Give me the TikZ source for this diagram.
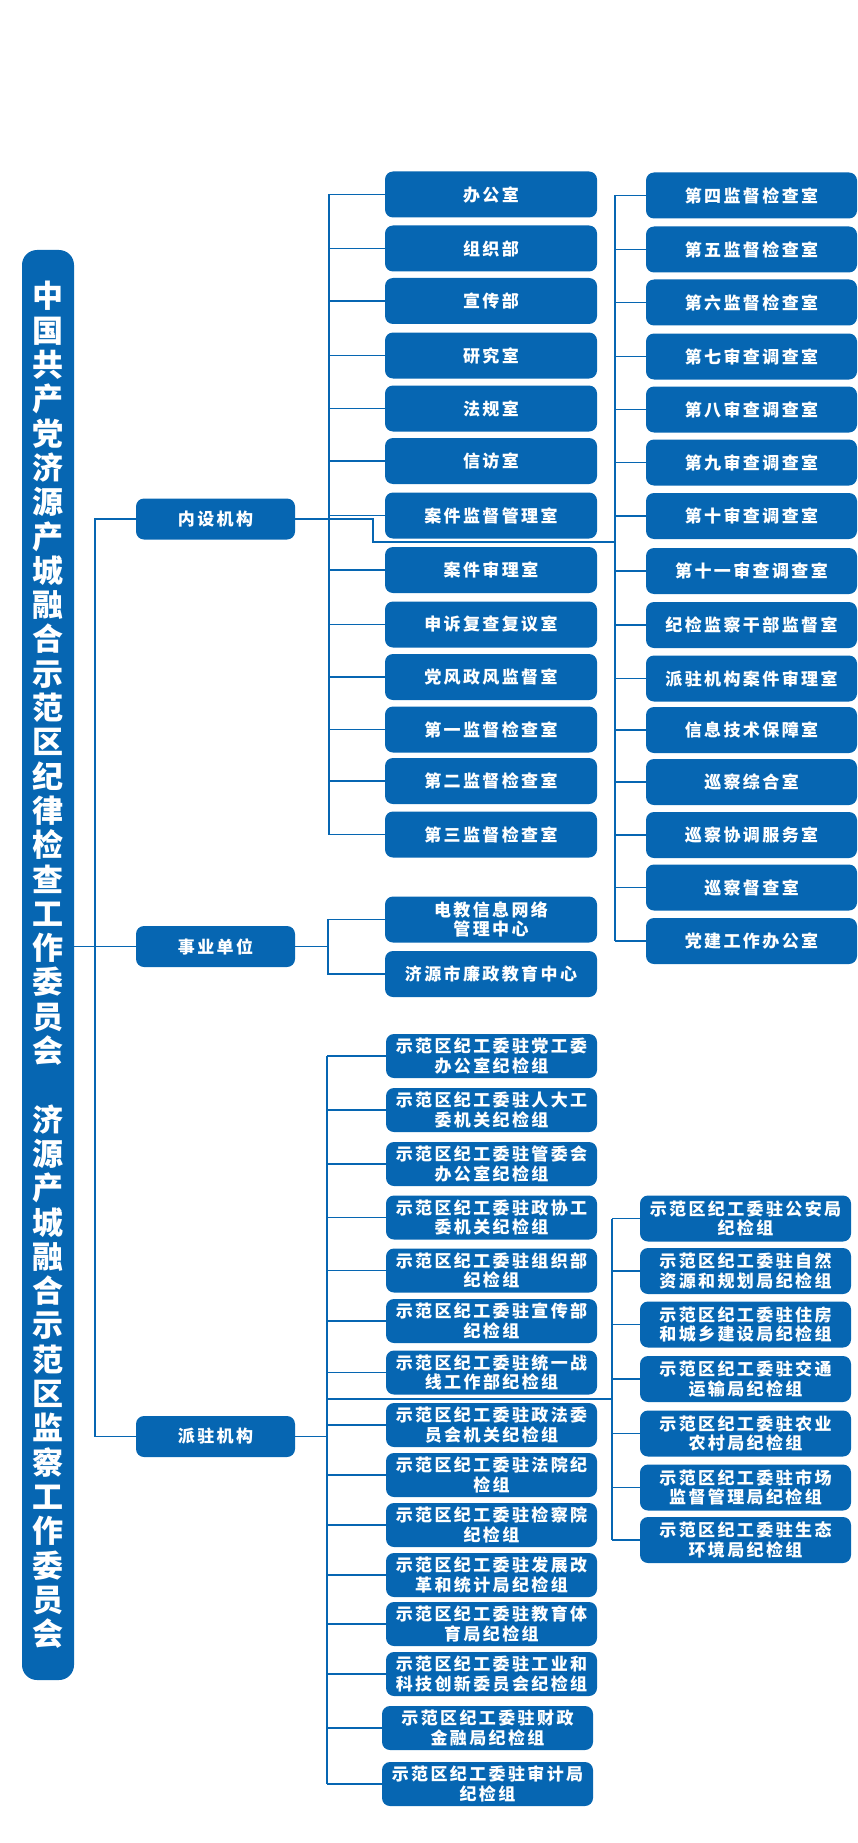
\documentclass[tikz,border=0pt]{standalone}
\usepackage{fontspec}
\newfontfamily\cjk[LetterSpace=14]{Noto Sans CJK SC}
\newfontfamily\cjktitle{Noto Sans CJK SC}
\definecolor{orgblue}{RGB}{6,102,178}
\begin{document}
\begin{tikzpicture}[x=1pt,y=-1pt,
  box/.style={fill=orgblue, text=white, rounded corners=8pt, inner sep=0pt, align=center,
    minimum height=46pt, font=\cjk\bfseries\fontsize{17}{19.5}\selectfont},
  wbox/.style={box, minimum width=212pt},
  pbox/.style={box, minimum width=211pt, minimum height=44pt},
  lbox/.style={box, minimum width=159pt, minimum height=41pt},
  tbox/.style={fill=orgblue, text=white, rounded corners=15pt, inner sep=0pt, align=center,
    minimum width=52pt, minimum height=1430pt, font=\cjktitle\bfseries\fontsize{31}{34.3}\selectfont},
  link/.style={draw=orgblue, line width=1.2pt}]
\useasboundingbox (0,0) rectangle (858,1843);

% title
\node[tbox] (title) at (48,965) {中\\国\\共\\产\\党\\济\\源\\产\\城\\融\\合\\示\\范\\区\\纪\\律\\检\\查\\工\\作\\委\\员\\会\\\phantom{中}\\济\\源\\产\\城\\融\\合\\示\\范\\区\\监\\察\\工\\作\\委\\员\\会};

% level 1
\node[lbox] (ns) at (215.5,519) {内设机构};
\node[lbox] (sy) at (215.5,946.5) {事业单位};
\node[lbox] (pz) at (215.5,1436.5) {派驻机构};

\coordinate (t0) at (95,0);
\draw[link] (ns.west) -- (t0 |- ns.west) -- (t0 |- pz.west) -- (pz.west);
\draw[link] (title.east |- sy.west) -- (sy.west);

% column 2 (internal)
\coordinate (c2) at (329,0);
\foreach \n/\y/\t in {1/194.5/办公室, 2/248.5/组织部, 3/301/宣传部, 4/355.5/研究室,
  5/408.5/法规室, 6/461/信访室, 7/515.5/案件监督管理室, 8/570/案件审理室,
  9/624.5/申诉复查复议室, 10/677/党风政风监督室, 11/729.5/第一监督检查室,
  12/781/第二监督检查室, 13/834.5/第三监督检查室}{
  \node[wbox] (a\n) at (491,\y) {\t};
  \draw[link] (c2 |- a\n.west) -- (a\n.west);
}
\draw[link] (c2 |- a1.west) -- (c2 |- a13.west);

% column 3 (internal)
\coordinate (c3) at (615,0);
\foreach \n/\y/\t in {1/195.5/第四监督检查室, 2/249.5/第五监督检查室, 3/302.5/第六监督检查室,
  4/356.5/第七审查调查室, 5/409.5/第八审查调查室, 6/462.5/第九审查调查室,
  7/516/第十审查调查室, 8/571/第十一审查调查室, 9/625/纪检监察干部监督室,
  10/678.5/派驻机构案件审理室, 11/730/信息技术保障室, 12/782/巡察综合室,
  13/835/巡察协调服务室, 14/887.5/巡察督查室, 15/941/党建工作办公室}{
  \node[box, minimum width=211pt] (b\n) at (751.5,\y) {\t};
  \draw[link] (c3 |- b\n.west) -- (b\n.west);
}
\draw[link] (c3 |- b1.west) -- (c3 |- b15.west);

\coordinate (k1) at (373,542);
\draw[link] (ns.east) -| (k1) -- (c3 |- k1);

% 事业单位
\node[wbox] (s1) at (491,919.5) {电教信息网络\\管理中心};
\node[wbox] (s2) at (491,974) {济源市廉政教育中心};
\coordinate (c4) at (328,0);
\draw[link] (sy.east) -- (c4 |- sy.east);
\draw[link] (s1.west) -- (c4 |- s1.west) -- (c4 |- s2.west) -- (s2.west);

% 派驻 left
\coordinate (c5) at (327,0);
\foreach \n/\x/\y/\t in {1/491.5/1056/{示范区纪工委驻党工委\\办公室纪检组},
  2/491.5/1110/{示范区纪工委驻人大工\\委机关纪检组},
  3/491.5/1164/{示范区纪工委驻管委会\\办公室纪检组},
  4/491.5/1217.5/{示范区纪工委驻政协工\\委机关纪检组},
  5/491.5/1270.5/{示范区纪工委驻组织部\\纪检组},
  6/491.5/1321/{示范区纪工委驻宣传部\\纪检组},
  7/491.5/1372.5/{示范区纪工委驻统一战\\线工作部纪检组},
  8/491.5/1425/{示范区纪工委驻政法委\\员会机关纪检组},
  9/491.5/1475/{示范区纪工委驻法院纪\\检组},
  10/491.5/1525/{示范区纪工委驻检察院\\纪检组},
  11/491.5/1575/{示范区纪工委驻发展改\\革和统计局纪检组},
  12/491.5/1624/{示范区纪工委驻教育体\\育局纪检组},
  13/491.5/1674/{示范区纪工委驻工业和\\科技创新委员会纪检组},
  14/487.5/1728/{示范区纪工委驻财政\\金融局纪检组},
  15/487.5/1784/{示范区纪工委驻审计局\\纪检组}}{
  \node[pbox] (p\n) at (\x,\y) {\t};
  \draw[link] (c5 |- p\n.west) -- (p\n.west);
}
\draw[link] (c5 |- p1.west) -- (c5 |- p15.west);
\draw[link] (pz.east) -- (c5 |- pz.east);

% 派驻 right
\coordinate (c6) at (612,0);
\foreach \n/\y/\t in {1/1218.5/{示范区纪工委驻公安局\\纪检组},
  2/1271/{示范区纪工委驻自然\\资源和规划局纪检组},
  3/1324.5/{示范区纪工委驻住房\\和城乡建设局纪检组},
  4/1379/{示范区纪工委驻交通\\运输局纪检组},
  5/1433.5/{示范区纪工委驻农业\\农村局纪检组},
  6/1487.5/{示范区纪工委驻市场\\监督管理局纪检组},
  7/1540/{示范区纪工委驻生态\\环境局纪检组}}{
  \node[pbox, minimum height=46pt] (r\n) at (745.5,\y) {\t};
  \draw[link] (c6 |- r\n.west) -- (r\n.west);
}
\draw[link] (c6 |- r1.west) -- (c6 |- r7.west);
\coordinate (j1) at (327,1399);
\draw[link] (j1) -- (c6 |- j1);
\end{tikzpicture}
\end{document}
